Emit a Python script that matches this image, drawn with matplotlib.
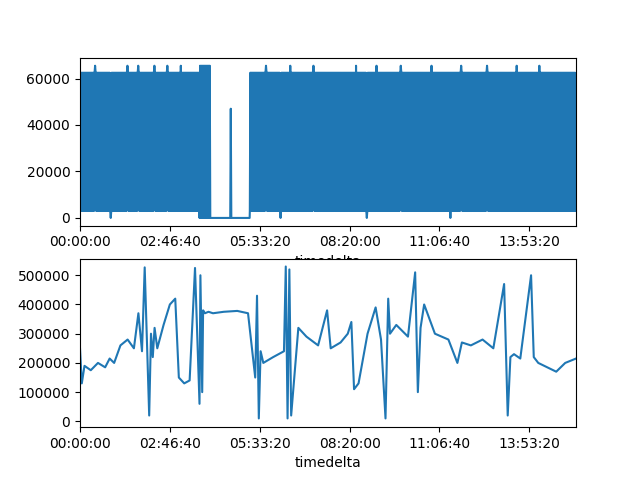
import matplotlib
matplotlib.use("Agg")
import matplotlib.pyplot as plt
import matplotlib.ticker as mticker
import numpy as np

# top panel: segments where the signal flips between a low and a high level
seg_start = [0, 13300, 14500, 18900]
seg_end = [13300, 14500, 18900, 55200]
seg_low = [3000, 0, 0, 3000]
seg_high = [62500, 65500, 0, 62500]
flip_step = 60  # seconds between samples

# isolated excursions in the top panel (time s, value)
top_spike_t = [1700, 5300, 6500, 8300, 9700, 11200, 16800, 20700, 23400, 26000, 30700,
               33000, 35700, 39100, 42400, 45300, 48600, 51100, 3400, 22300, 31900, 41200]
top_spike_v = [65500, 65500, 65500, 65500, 65500, 65500, 47000, 65500, 65500, 65500, 65500,
               65500, 65500, 65500, 65500, 65500, 65500, 65500, 0, 0, 0, 0]

# bottom panel samples (time s, value)
bot_t = [0, 200, 500, 1200, 2000, 2800, 3300, 3800, 4500, 5300, 6000, 6500, 6900, 7200,
         7700, 7900, 8100, 8300, 8600, 9300, 10000, 10600, 11000, 11600, 12200, 12800,
         13300, 13400, 13600, 13700, 13900, 14300, 14800, 16000, 17500, 18700, 19500,
         19700, 19900, 20100, 20400, 21500, 22700, 22900, 23100, 23300, 23500, 24300,
         25200, 26500, 27500, 27900, 29000, 29800, 30200, 30500, 31000, 32000, 32900,
         33500, 34000, 34300, 34500, 35200, 36500, 37300, 37600, 37900, 38300, 39500,
         41000, 42000, 42500, 43500, 44800, 46000, 47200, 47600, 47900, 48300, 49000,
         50200, 50500, 51000, 52000, 53000, 54000, 55200]
bot_v = [250000, 130000, 190000, 175000, 200000, 185000, 215000, 200000, 260000, 280000,
         250000, 370000, 240000, 527000, 20000, 300000, 220000, 320000, 250000, 330000,
         400000, 420000, 150000, 130000, 140000, 525000, 60000, 500000, 100000, 380000,
         370000, 375000, 370000, 375000, 378000, 370000, 150000, 430000, 10000, 240000,
         200000, 220000, 240000, 530000, 10000, 520000, 20000, 320000, 290000, 260000,
         380000, 250000, 270000, 300000, 340000, 110000, 130000, 300000, 390000, 280000,
         10000, 420000, 300000, 330000, 290000, 510000, 100000, 320000, 400000, 300000,
         280000, 200000, 270000, 260000, 280000, 250000, 470000, 20000, 220000, 230000,
         215000, 500000, 220000, 200000, 185000, 170000, 200000, 215000]

# build the top trace
top_t, top_v = [], []
for s, e, lo, hi in zip(seg_start, seg_end, seg_low, seg_high):
    ts = np.arange(s, e, flip_step)
    top_t.extend(ts)
    top_v.extend([hi if i % 2 else lo for i in range(len(ts))])
top_t = np.array(top_t, dtype=float)
top_v = np.array(top_v, dtype=float)
for t, v in zip(top_spike_t, top_spike_v):
    idx = np.argmin(np.abs(top_t - t))
    top_v[idx] = v


def fmt_td(x, pos):
    x = int(round(x))
    return f"{x // 3600:02d}:{(x % 3600) // 60:02d}:{x % 60:02d}"


fig, (ax1, ax2) = plt.subplots(2, 1, figsize=(6.4, 4.8), dpi=100)
ax1.plot(top_t, top_v, color="#1f77b4")
ax2.plot(bot_t, bot_v, color="#1f77b4")
for ax in (ax1, ax2):
    ax.set_xlim(0, 55200)
    ax.xaxis.set_major_locator(mticker.MultipleLocator(10000))
    ax.xaxis.set_major_formatter(mticker.FuncFormatter(fmt_td))
    ax.set_xlabel("timedelta")
ax1.set_ylim(-3300, 69000)
ax2.set_ylim(-20000, 555000)
fig.subplots_adjust(left=0.125, right=0.9, top=0.88, bottom=0.11, hspace=0.2)
fig.savefig("out.png")
